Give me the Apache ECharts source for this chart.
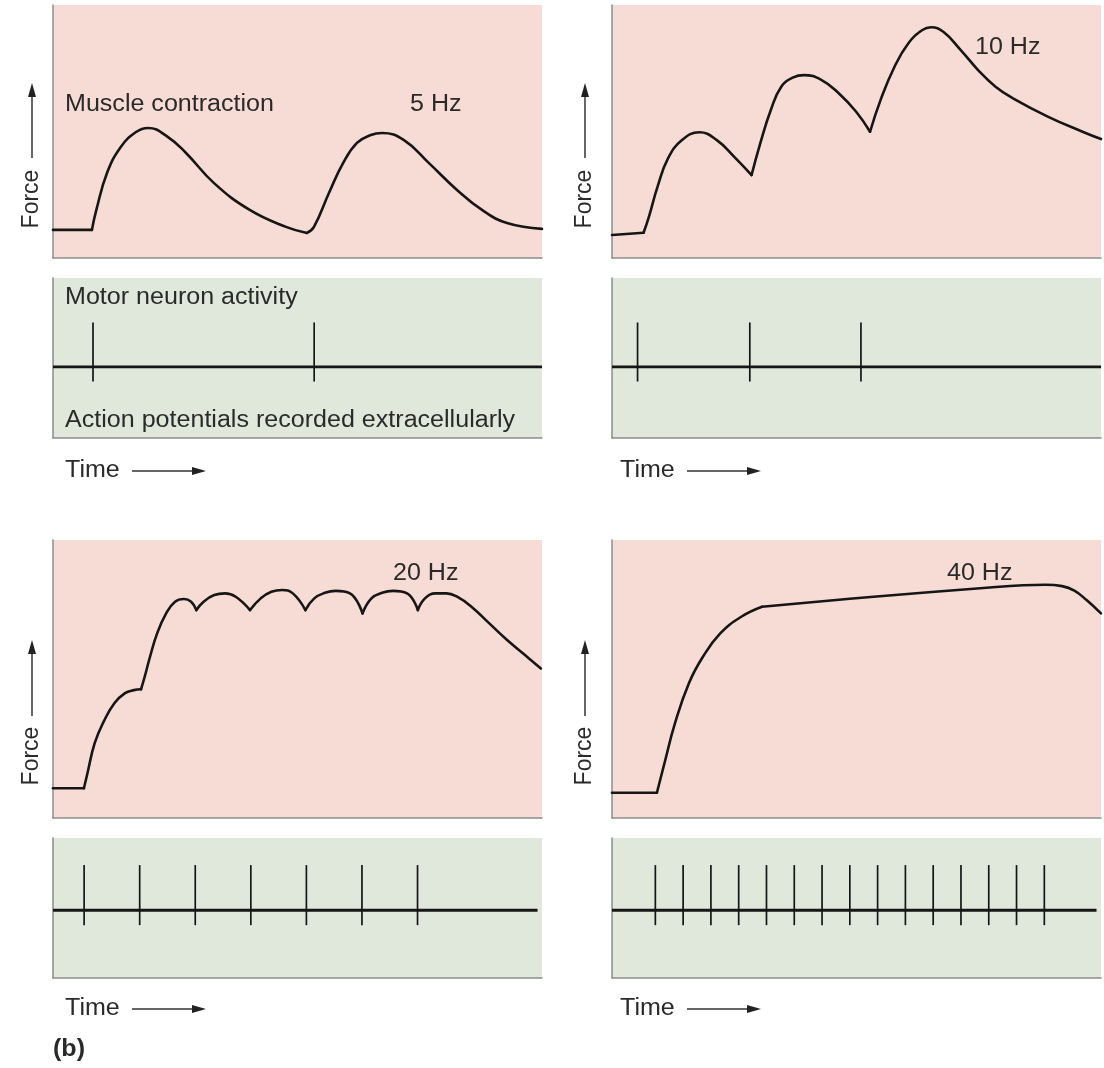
<!DOCTYPE html>
<html>
<head>
<meta charset="utf-8">
<script src="https://cdn.jsdelivr.net/npm/echarts@6/dist/echarts.min.js"></script>
<style>
html,body{margin:0;padding:0;background:#fff;}
#c{width:1104px;height:1068px;}
</style>
</head>
<body>
<div id="c"></div>
<script>
// ---- data (time in ms, force in arbitrary units 0-100) ----
// each force trace is split into twitch segments (a new one starts at every action potential)
const timeMax = 440;

const force5Hz = [
  [[0,11.1],[35,11.1]],
  [[35,11.1],[39,19],[48.6,33.6],[61,43.9],[74.7,49.8],[85.5,51.4],[103.5,47.8],
   [119.7,41.5],[144.9,29.6],[177,19],[209.6,12.3],[228.5,9.9]],
  [[228.5,9.9],[234.8,12.3],[248.3,25.7],[261,37.5],[273.5,45.5],[286,48.6],[296,49.4],
   [315.8,46.6],[338.3,37.5],[363.5,26.9],[386,19],[408.5,13.8],[440,11.5]]
];
const force10Hz = [
  [[0,9.1],[28.4,10]],
  [[28.4,10],[33.2,16.3],[41,28.2],[50.4,39.4],[63,46.6],[78.6,49.7],[94.3,46.6],
   [110,40],[125.6,32.8]],
  [[125.6,32.8],[133.4,45.3],[142.9,58.5],[152.3,67.7],[163.2,71.4],[172.7,72.3],
   [188.3,70.4],[204,65.1],[219.7,57.8],[232.2,49.9]],
  [[232.2,49.9],[241.7,62.5],[254.2,75.6],[266.7,84.9],[279.3,90.1],[287.1,91.2],
   [298.1,89.4],[313.8,82.2],[329.4,74.3],[345.1,67.7],[360.8,63.1],[392.1,55.9],
   [423.4,49.9],[440,47]]
];
const force20Hz = [
  [[0,10.7],[27.8,10.7]],
  [[27.8,10.7],[31,16.1],[37.5,26.9],[45.5,34.6],[55.2,41.3],[64.8,44.9],[72.8,46],[79.2,46.3]],
  [[79.2,46.3],[82.5,50.8],[87.3,58],[93.7,66.4],[101.8,73.6],[109.8,77.8],[117.8,78.8],
   [124.3,77.8],[129,74.8]],
  [[129,74.8],[135.5,77.8],[145.1,80.2],[154.8,80.8],[164.4,79.6],[177.3,74.8]],
  [[177.3,74.8],[186.9,79],[196.5,81.4],[206.2,82],[215.8,80.8],[227.1,74.8]],
  [[227.1,74.8],[235.1,79],[244.7,81],[254.4,81.7],[267.2,80.8],[278.5,73.6]],
  [[278.5,73.6],[286.5,79],[296.1,81],[305.8,81.7],[318.6,80.8],[328.3,74.8]],
  [[328.3,74.8],[334.7,79],[344.3,80.8],[354,80.8],[363.6,79.6],[376.5,76],[392.6,70],
   [408.6,64],[424.7,58.6],[439,53.8]]
];
const force40Hz = [
  [[0,9.1],[40.4,9.1]],
  [[40.4,9.1],[47.2,19.7],[56.7,34.1],[69.2,48.5],[81.8,58],[97.4,66.4],[116.3,72.4],[135,76]],
  [[135,76],[235.4,79.6],[340,82.9],[370,83.7],[390,83.9],[405,83.4],[416,81.8],[427,78.4],[440,73.6]]
];

// action potential times (ms)
const spikes5Hz = [36, 235];
const spikes10Hz = [23, 124, 224];
const spikes20Hz = [28, 78, 128, 178, 228, 278, 328];
const spikes40Hz = [39, 64, 89, 114, 139, 164, 189, 214, 239, 264, 289, 314, 339, 364, 389];

const spikeTop = 1;
const spikeBottom = -0.33;

const labels = {
  force: 'Force',
  time: 'Time',
  muscle: 'Muscle contraction',
  motor: 'Motor neuron activity',
  action: 'Action potentials recorded extracellularly',
  hz: ['5 Hz', '10 Hz', '20 Hz', '40 Hz'],
  panel: '(b)'
};

// ---- layout ----
const PINK = '#f7dcd6';
const GREEN = '#dfe8da';
const BORDER = '#8c8c8c';
const INK = '#161616';
const TEXT = '#2a2a2a';
const FONT = '"Liberation Sans", Arial, Helvetica, sans-serif';
const FS = 23;
const SX = 1.09;

const cols = [53, 612];
const W = 489;
const rows = [
  {forceTop: 5, forceH: 253, apTop: 278, apH: 160, apMin: -1.6, apMax: 2.0, baseEnd: 440},
  {forceTop: 540, forceH: 278, apTop: 838, apH: 140, apMin: -1.5, apMax: 1.6, baseEnd: 436}
];
const panels = [
  {force: force5Hz, spikes: spikes5Hz, col: 0, row: 0},
  {force: force10Hz, spikes: spikes10Hz, col: 1, row: 0},
  {force: force20Hz, spikes: spikes20Hz, col: 0, row: 1},
  {force: force40Hz, spikes: spikes40Hz, col: 1, row: 1}
];

const grid = [], xAxis = [], yAxis = [], series = [];
function addAxes(idx, ymin, ymax) {
  xAxis.push({type: 'value', gridIndex: idx, min: 0, max: timeMax,
    axisLine: {show: true, onZero: false, lineStyle: {color: BORDER, width: 1.5}},
    axisTick: {show: false}, axisLabel: {show: false}, splitLine: {show: false}});
  yAxis.push({type: 'value', gridIndex: idx, min: ymin, max: ymax,
    axisLine: {show: true, onZero: false, lineStyle: {color: BORDER, width: 1.5}},
    axisTick: {show: false}, axisLabel: {show: false}, splitLine: {show: false}});
}
panels.forEach((p) => {
  const r = rows[p.row];
  const left = cols[p.col];
  // force grid
  let gi = grid.length;
  grid.push({left: left, top: r.forceTop, width: W, height: r.forceH, show: true,
    backgroundColor: PINK, borderWidth: 0});
  addAxes(gi, 0, 100);
  p.force.forEach(seg => {
    series.push({type: 'line', xAxisIndex: gi, yAxisIndex: gi, data: seg,
      smooth: 0.45, symbol: 'none',
      lineStyle: {color: INK, width: 2.6, cap: 'round', join: 'round'}, silent: true, z: 3});
  });
  // action potential grid
  gi = grid.length;
  grid.push({left: left, top: r.apTop, width: W, height: r.apH, show: true,
    backgroundColor: GREEN, borderWidth: 0});
  addAxes(gi, r.apMin, r.apMax);
  series.push({type: 'line', xAxisIndex: gi, yAxisIndex: gi, data: [[0, 0], [r.baseEnd, 0]],
    symbol: 'none', lineStyle: {color: INK, width: 2.8}, silent: true, z: 3});
  series.push({type: 'custom', xAxisIndex: gi, yAxisIndex: gi,
    data: p.spikes.map(t => [t, spikeBottom, spikeTop]),
    encode: {x: 0, y: [1, 2]}, silent: true, z: 4,
    renderItem: function (params, api) {
      const a = api.coord([api.value(0), api.value(1)]);
      const b = api.coord([api.value(0), api.value(2)]);
      return {type: 'line', shape: {x1: a[0], y1: a[1], x2: b[0], y2: b[1]},
        style: {stroke: INK, lineWidth: 1.7}};
    }});
});

// ---- texts and arrows ----
function txt(x, y, s, extra) {
  const el = {type: 'text', x: x, y: y, silent: true, z: 10, scaleX: SX,
    style: {text: s, fill: TEXT, font: FS + 'px ' + FONT,
      textAlign: 'left', textVerticalAlign: 'middle'}};
  if (extra) {
    if (extra.style) Object.assign(el.style, extra.style);
    if (extra.rotation !== undefined) { el.rotation = extra.rotation; el.scaleX = 1; el.scaleY = 1; }
  }
  return el;
}
function upArrow(x, yBottom, yTip) {
  return [
    {type: 'line', silent: true, shape: {x1: x, y1: yBottom, x2: x, y2: yTip + 10},
      style: {stroke: '#333', lineWidth: 1.5}},
    {type: 'polygon', silent: true, shape: {points: [[x, yTip], [x - 4, yTip + 14], [x + 4, yTip + 14]]},
      style: {fill: '#222'}}
  ];
}
function rightArrow(xStart, xTip, y) {
  return [
    {type: 'line', silent: true, shape: {x1: xStart, y1: y, x2: xTip - 10, y2: y},
      style: {stroke: '#333', lineWidth: 1.5}},
    {type: 'polygon', silent: true, shape: {points: [[xTip, y], [xTip - 14, y - 4], [xTip - 14, y + 4]]},
      style: {fill: '#222'}}
  ];
}

const graphic = [];
// Force labels
[[32, 199, 158, 83], [585, 199, 158, 83], [32, 756, 716, 640], [585, 756, 716, 640]].forEach(a => {
  graphic.push(txt(a[0], a[1], labels.force, {rotation: Math.PI / 2, style: {textAlign: 'center'}}));
  upArrow(a[0], a[2], a[3]).forEach(g => graphic.push(g));
});
// Time labels
[[65, 471], [620, 471], [65, 1009], [620, 1009]].forEach(a => {
  graphic.push(txt(a[0], a[1], labels.time));
  rightArrow(a[0] + 67, a[0] + 141, a[1]).forEach(g => graphic.push(g));
});
graphic.push(txt(65, 105, labels.muscle));
graphic.push(txt(410, 105, labels.hz[0]));
graphic.push(txt(975, 48, labels.hz[1]));
graphic.push(txt(393, 574, labels.hz[2]));
graphic.push(txt(947, 574, labels.hz[3]));
graphic.push(txt(65, 298, labels.motor));
graphic.push(txt(65, 421, labels.action));
graphic.push(txt(53, 1050, labels.panel, {style: {font: 'bold ' + FS + 'px ' + FONT}}));

const chart = echarts.init(document.getElementById('c'), null, {renderer: 'canvas'});
chart.setOption({
  animation: false,
  backgroundColor: '#ffffff',
  grid: grid, xAxis: xAxis, yAxis: yAxis, series: series, graphic: graphic
});
</script>
</body>
</html>
